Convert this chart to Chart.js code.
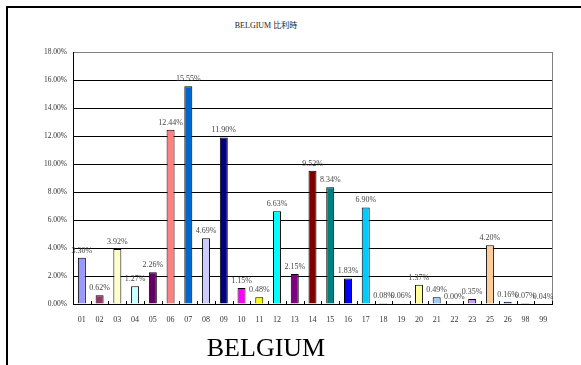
<!DOCTYPE html>
<html>
<head>
<meta charset="utf-8">
<script src="https://cdn.jsdelivr.net/npm/chart.js@4"></script>
<style>
  body { margin: 0; background: #fff; }
  #wrap { position: relative; width: 581px; height: 365px; overflow: hidden; }
  #frame { position: absolute; left: 6px; top: 6px; width: 600px; height: 400px;
           border-left: 2px solid #000; border-top: 2px solid #000; }
  #title { position: absolute; left: 0; width: 532px; top: 19px; text-align: center;
           font: 8px "Liberation Serif", "Noto Sans CJK TC", serif; color: #222; }
  #caption { position: absolute; left: 0; width: 532px; top: 333px; text-align: center;
             font: 26px "Liberation Serif", serif; color: #000; }
  canvas { position: absolute; left: 0; top: 0; }
</style>
</head>
<body>
<div id="wrap">
  <div id="frame"></div>
  <div id="title">BELGIUM 比利時</div>
  <canvas id="graphBelgium" width="581" height="365"></canvas>
  <div id="caption">BELGIUM</div>
</div>
<script>
const codes = ['01','02','03','04','05','06','07','08','09','10','11','12','13','14',
               '15','16','17','18','19','20','21','22','23','25','26','98','99'];
const shares = [3.30, 0.62, 3.92, 1.27, 2.26, 12.44, 15.55, 4.69, 11.90, 1.15, 0.48, 6.63, 2.15, 9.52,
                8.34, 1.83, 6.90, 0.08, 0.06, 1.37, 0.49, 0.00, 0.35, 4.20, 0.16, 0.07, 0.04];
const barColors = ['#9999FF','#993366','#FFFFCC','#CCFFFF','#660066','#FF8080','#0066CC','#CCCCFF',
                   '#000080','#FF00FF','#FFFF00','#00FFFF','#800080','#800000','#008080','#0000FF',
                   '#00CCFF','#CCFFFF','#CCFFCC','#FFFF99','#99CCFF','#FF99CC','#CC99FF','#FFCC99',
                   '#3366FF','#33CCCC','#99CC00'];
const yTicks = [0, 2, 4, 6, 8, 10, 12, 14, 16, 18];

const serif = '"Liberation Serif", serif';

// labels over bars, inside tick marks on x axis, grey right border
const extras = {
  id: 'extras',
  afterDatasetsDraw(chart) {
    const ctx = chart.ctx;
    const area = chart.chartArea;
    const xs = chart.scales.x;
    ctx.save();
    // right border
    ctx.strokeStyle = '#808080';
    ctx.lineWidth = 1;
    ctx.beginPath();
    ctx.moveTo(Math.round(area.right) + 0.5, area.top);
    ctx.lineTo(Math.round(area.right) + 0.5, area.bottom);
    ctx.stroke();
    // tick marks between categories
    ctx.strokeStyle = '#000';
    ctx.beginPath();
    for (let i = 0; i <= codes.length; i++) {
      const x = Math.round(xs.getPixelForValue(i - 0.5)) + 0.5;
      ctx.moveTo(x, area.bottom);
      ctx.lineTo(x, area.bottom - 3);
    }
    ctx.stroke();
    // value labels
    ctx.fillStyle = '#444';
    ctx.font = '8px ' + serif;
    ctx.textAlign = 'center';
    ctx.textBaseline = 'bottom';
    chart.getDatasetMeta(0).data.forEach((bar, i) => {
      ctx.fillText(shares[i].toFixed(2) + '%', bar.x, bar.y - 3);
    });
    ctx.restore();
  }
};

new Chart(document.getElementById('graphBelgium'), {
  type: 'bar',
  data: {
    labels: codes,
    datasets: [{
      data: shares,
      backgroundColor: barColors,
      borderColor: '#000',
      borderWidth: 1,
      barPercentage: 0.5,
      categoryPercentage: 0.9
    }]
  },
  options: {
    responsive: false,
    animation: false,
    layout: { padding: { left: 13, top: 52, right: 29, bottom: 42 } },
    plugins: { legend: { display: false }, tooltip: { enabled: false } },
    scales: {
      x: {
        grid: { display: false },
        border: { color: '#000', width: 1 },
        ticks: { color: '#333', font: { family: serif, size: 8 }, padding: 3, maxRotation: 0, autoSkip: false },
        afterFit: (s) => { s.height = 19; }
      },
      y: {
        min: 0,
        max: 18,
        afterBuildTicks: (s) => { s.ticks = yTicks.map(v => ({ value: v })); },
        grid: {
          color: (c) => c.tick && c.tick.value === 18 ? '#808080' : '#000',
          lineWidth: 1,
          drawTicks: false
        },
        border: { color: '#000', width: 1 },
        ticks: {
          color: '#333',
          font: { family: serif, size: 7.5 },
          padding: 6,
          callback: (v) => v.toFixed(2) + '%'
        },
        afterFit: (s) => { s.width = 60; }
      }
    }
  },
  plugins: [extras]
});
</script>
</body>
</html>
